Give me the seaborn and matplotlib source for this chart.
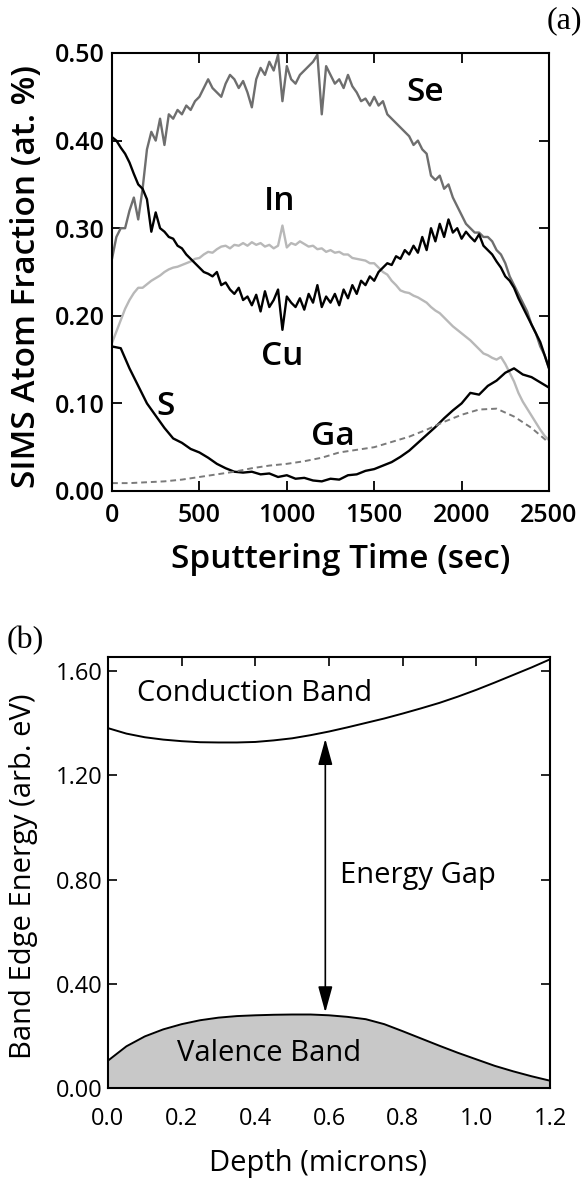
import matplotlib
matplotlib.use("Agg")
import matplotlib.pyplot as plt
import seaborn as sns

# ---------------------------------------------------------------------------
# (a) SIMS depth profile
# ---------------------------------------------------------------------------
TIME_FINE = list(range(0, 2501, 25))
SE = [0.265, 0.29, 0.30, 0.30, 0.32, 0.335, 0.31, 0.345, 0.39, 0.41,
      0.40, 0.425, 0.395, 0.43, 0.425, 0.435, 0.43, 0.44, 0.435, 0.445,
      0.45, 0.46, 0.47, 0.46, 0.455, 0.45, 0.465, 0.475, 0.47, 0.46,
      0.468, 0.455, 0.438, 0.47, 0.483, 0.475, 0.49, 0.48, 0.498, 0.445,
      0.485, 0.47, 0.465, 0.475, 0.48, 0.485, 0.49, 0.498, 0.43, 0.485,
      0.475, 0.465, 0.47, 0.46, 0.475, 0.462, 0.455, 0.445, 0.448, 0.44,
      0.45, 0.44, 0.445, 0.43, 0.425, 0.42, 0.415, 0.41, 0.405, 0.395,
      0.40, 0.39, 0.385, 0.36, 0.355, 0.36, 0.345, 0.35, 0.335, 0.325,
      0.315, 0.305, 0.30, 0.295, 0.295, 0.29, 0.29, 0.285, 0.275, 0.27,
      0.26, 0.245, 0.235, 0.225, 0.215, 0.205, 0.19, 0.18, 0.165, 0.155,
      0.14]
CU = [0.404, 0.40, 0.392, 0.385, 0.375, 0.362, 0.35, 0.345, 0.333, 0.296,
      0.318, 0.30, 0.296, 0.29, 0.288, 0.28, 0.277, 0.27, 0.265, 0.26,
      0.255, 0.25, 0.248, 0.245, 0.25, 0.235, 0.238, 0.23, 0.225, 0.232,
      0.218, 0.222, 0.212, 0.224, 0.205, 0.228, 0.21, 0.218, 0.23, 0.184,
      0.222, 0.215, 0.21, 0.22, 0.207, 0.225, 0.215, 0.235, 0.21, 0.222,
      0.215, 0.225, 0.212, 0.23, 0.22, 0.235, 0.225, 0.24, 0.235, 0.245,
      0.24, 0.25, 0.255, 0.26, 0.258, 0.268, 0.265, 0.275, 0.27, 0.28,
      0.272, 0.29, 0.275, 0.30, 0.285, 0.305, 0.29, 0.31, 0.295, 0.30,
      0.288, 0.296, 0.29, 0.285, 0.293, 0.28, 0.275, 0.27, 0.262, 0.255,
      0.245, 0.24, 0.232, 0.22, 0.21, 0.20, 0.19, 0.18, 0.17, 0.155,
      0.14]
IN = [0.169, 0.182, 0.195, 0.208, 0.218, 0.226, 0.232, 0.232, 0.236, 0.24,
      0.243, 0.246, 0.25, 0.253, 0.255, 0.256, 0.258, 0.26, 0.262, 0.265,
      0.266, 0.27, 0.273, 0.272, 0.276, 0.279, 0.28, 0.277, 0.281, 0.28,
      0.283, 0.28, 0.284, 0.281, 0.283, 0.279, 0.281, 0.277, 0.28, 0.303,
      0.278, 0.283, 0.281, 0.285, 0.282, 0.279, 0.28, 0.276, 0.277, 0.273,
      0.275, 0.272, 0.273, 0.27, 0.27, 0.266, 0.265, 0.264, 0.263, 0.26,
      0.26, 0.255, 0.25, 0.247, 0.24, 0.235, 0.229, 0.227, 0.226, 0.223,
      0.221, 0.218, 0.215, 0.21, 0.206, 0.203, 0.198, 0.193, 0.188, 0.184,
      0.18, 0.176, 0.172, 0.167, 0.162, 0.157, 0.155, 0.152, 0.15, 0.153,
      0.145, 0.135, 0.125, 0.112, 0.102, 0.094, 0.086, 0.078, 0.07, 0.063,
      0.058]

TIME_S = list(range(0, 2501, 50))
S = [0.165, 0.163, 0.14, 0.12, 0.10, 0.086, 0.072, 0.06, 0.055, 0.048,
     0.044, 0.038, 0.031, 0.026, 0.022, 0.021, 0.022, 0.019, 0.02, 0.016,
     0.018, 0.014, 0.015, 0.012, 0.011, 0.014, 0.013, 0.018, 0.019, 0.023,
     0.025, 0.029, 0.033, 0.039, 0.046, 0.055, 0.064, 0.073, 0.083, 0.092,
     0.10, 0.112, 0.11, 0.12, 0.126, 0.135, 0.14, 0.133, 0.13, 0.124,
     0.118]

TIME_GA = list(range(0, 2501, 100))
GA = [0.009, 0.009, 0.01, 0.011, 0.013, 0.016, 0.019, 0.022, 0.026, 0.029,
      0.031, 0.034, 0.038, 0.044, 0.047, 0.05, 0.056, 0.062, 0.07, 0.079,
      0.087, 0.093, 0.094, 0.085, 0.072, 0.055]

A_XTICKS = [0, 500, 1000, 1500, 2000, 2500]
A_XTICKLABELS = ["0", "500", "1000", "1500", "2000", "2500"]
A_YTICKS = [0.0, 0.1, 0.2, 0.3, 0.4, 0.5]
A_YTICKLABELS = ["0.00", "0.10", "0.20", "0.30", "0.40", "0.50"]

# element labels: (text, time, fraction)
A_LABELS = [("Se", 1790, 0.455), ("In", 958, 0.330), ("Cu", 973, 0.153),
            ("S", 309, 0.097), ("Ga", 1266, 0.062)]

# ---------------------------------------------------------------------------
# (b) band edge diagram
# ---------------------------------------------------------------------------
DEPTH = [0.00, 0.05, 0.10, 0.15, 0.20, 0.25, 0.30, 0.35, 0.40, 0.45, 0.50,
         0.55, 0.60, 0.65, 0.70, 0.75, 0.80, 0.85, 0.90, 0.95, 1.00, 1.05,
         1.10, 1.15, 1.20]
CONDUCTION = [1.381, 1.360, 1.346, 1.337, 1.331, 1.327, 1.326, 1.326, 1.328,
              1.334, 1.342, 1.354, 1.368, 1.384, 1.401, 1.418, 1.437, 1.457,
              1.478, 1.502, 1.528, 1.556, 1.585, 1.614, 1.645]
VALENCE = [0.105, 0.160, 0.198, 0.225, 0.245, 0.260, 0.270, 0.276, 0.279,
           0.281, 0.282, 0.282, 0.279, 0.273, 0.264, 0.245, 0.218, 0.190,
           0.162, 0.135, 0.110, 0.085, 0.064, 0.045, 0.028]

B_XTICKS = [0.0, 0.2, 0.4, 0.6, 0.8, 1.0, 1.2]
B_XTICKLABELS = ["0.0", "0.2", "0.4", "0.6", "0.8", "1.0", "1.2"]
B_YTICKS = [0.0, 0.4, 0.8, 1.2, 1.6]
B_YTICKLABELS = ["0.00", "0.40", "0.80", "1.20", "1.60"]

GAP_DEPTH = 0.59
GAP_BOTTOM = 0.29
GAP_TOP = 1.34

# ---------------------------------------------------------------------------
sns.set_theme(style="ticks")
plt.rcParams["font.family"] = ["Open Sans", "DejaVu Sans"]
plt.rcParams["axes.linewidth"] = 1.5
plt.rcParams["axes.edgecolor"] = "black"
plt.rcParams["text.color"] = "black"
plt.rcParams["axes.labelcolor"] = "black"
plt.rcParams["xtick.color"] = "black"
plt.rcParams["ytick.color"] = "black"

fig = plt.figure(figsize=(5.84, 11.8), dpi=100)
ax_a = fig.add_axes([112 / 584, 1 - 491 / 1180, 437 / 584, 438 / 1180])
ax_b = fig.add_axes([108 / 584, 1 - 1088 / 1180, 442 / 584, 431 / 1180])

# --- panel (a) ---
sns.lineplot(x=TIME_FINE, y=SE, ax=ax_a, color="#6e6e6e", lw=1.7, estimator=None)
sns.lineplot(x=TIME_FINE, y=IN, ax=ax_a, color="#b8b8b8", lw=1.7, estimator=None)
sns.lineplot(x=TIME_FINE, y=CU, ax=ax_a, color="black", lw=1.7, estimator=None)
sns.lineplot(x=TIME_S, y=S, ax=ax_a, color="black", lw=1.7, estimator=None)
sns.lineplot(x=TIME_GA, y=GA, ax=ax_a, color="#7a7a7a", lw=1.4, estimator=None,
             linestyle=(0, (3, 2)))

ax_a.set_xlim(0, 2500)
ax_a.set_ylim(0, 0.5)
ax_a.set_xticks(A_XTICKS)
ax_a.set_xticklabels(A_XTICKLABELS, fontweight="semibold")
ax_a.set_yticks(A_YTICKS)
ax_a.set_yticklabels(A_YTICKLABELS, fontweight="semibold")
ax_a.tick_params(direction="in", length=7, width=1.3, top=True, right=True,
                 labelsize=18, pad=5)
ax_a.tick_params(axis="x", pad=9)
ax_a.set_xlabel("Sputtering Time (sec)", fontsize=24, va="center",
                fontweight="semibold")
ax_a.set_ylabel("SIMS Atom Fraction (at. %)", fontsize=24, va="center",
                fontweight="semibold")
ax_a.xaxis.set_label_coords((341 - 112) / 437, (491 - 560) / 438)
ax_a.yaxis.set_label_coords((27 - 112) / 437, 0.49)

for name, t, v in A_LABELS:
    ax_a.text(t, v, name, fontsize=24, ha="center", va="center",
              fontweight="semibold")

# --- panel (b) ---
ax_b.fill_between(DEPTH, 0, VALENCE, color="#c8c8c8", lw=0)
sns.lineplot(x=DEPTH, y=VALENCE, ax=ax_b, color="black", lw=1.4, estimator=None)
sns.lineplot(x=DEPTH, y=CONDUCTION, ax=ax_b, color="black", lw=1.4, estimator=None)

ax_b.annotate("", xy=(GAP_DEPTH, GAP_TOP), xytext=(GAP_DEPTH, GAP_BOTTOM),
              arrowprops=dict(arrowstyle="<|-|>,head_length=0.8,head_width=0.22",
                              color="black", lw=1.2, mutation_scale=20,
                              shrinkA=0, shrinkB=0))

ax_b.set_xlim(0, 1.2)
ax_b.set_ylim(0, 1.654)
ax_b.set_xticks(B_XTICKS)
ax_b.set_xticklabels(B_XTICKLABELS)
ax_b.set_yticks(B_YTICKS)
ax_b.set_yticklabels(B_YTICKLABELS)
ax_b.tick_params(direction="in", length=6.5, width=1.2, top=True, right=True,
                 labelsize=17, pad=4)
ax_b.tick_params(axis="x", pad=14)
ax_b.set_xlabel("Depth (microns)", fontsize=21, va="center")
ax_b.set_ylabel("Band Edge Energy (arb. eV)", fontsize=21, va="center")
ax_b.xaxis.set_label_coords((318 - 108) / 442, (1088 - 1163) / 431)
ax_b.yaxis.set_label_coords((24 - 108) / 442, 0.492)

ax_b.text(0.079, 1.514, "Conduction Band", fontsize=21, ha="left", va="center")
ax_b.text(0.631, 0.816, "Energy Gap", fontsize=21, ha="left", va="center")
ax_b.text(0.188, 0.131, "Valence Band", fontsize=21, ha="left", va="center")

# panel tags in a serif face
fig.text(564 / 584, 1 - 21 / 1180, "(a)", fontsize=23, ha="center", va="center",
         family=["Liberation Serif", "DejaVu Serif"])
fig.text(25 / 584, 1 - 641 / 1180, "(b)", fontsize=23, ha="center", va="center",
         family=["Liberation Serif", "DejaVu Serif"])

fig.savefig("out.png", dpi=100)
